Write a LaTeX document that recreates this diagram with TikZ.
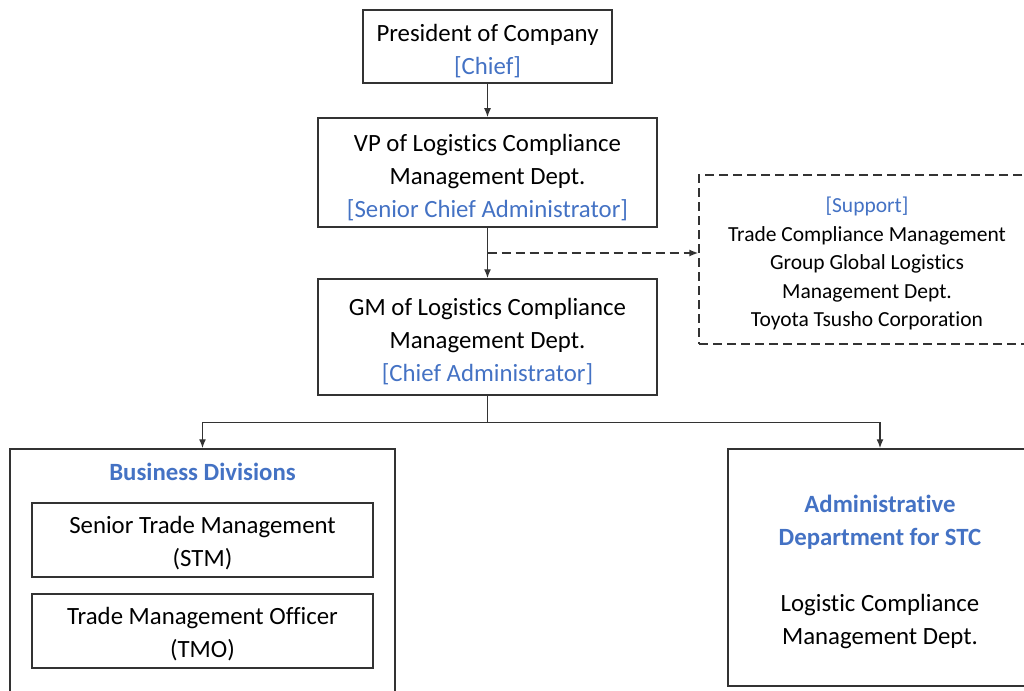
\documentclass[tikz,border=0pt]{standalone}
\usepackage{fontspec}
\setmainfont{Carlito}[Ligatures=NoCommon]
\usetikzlibrary{arrows.meta,calc}
\definecolor{roleblue}{HTML}{4472C4}
\definecolor{framegray}{HTML}{333333}
\newcommand{\lowertext}[1]{\rule{0pt}{#1}}

\begin{document}
\begin{tikzpicture}[x=1pt,y=-1pt,
	box/.style={draw=framegray, line width=1.5pt, align=center, inner sep=0pt,
		font=\fontsize{24.8}{33}\selectfont},
	supportbox/.style={draw=framegray, line width=1.4pt, dash pattern=on 9pt off 5pt,
		align=center, inner sep=0pt, font=\fontsize{21.5}{28.4}\selectfont},
	link/.style={draw=framegray, line width=1.4pt},
	tip/.style={-{Latex[length=9pt,width=7pt]}}]
	\useasboundingbox (0,0) rectangle (1024,690);
	\node [box, minimum width=249pt, minimum height=73pt] (pres) at (487.5,46.5)
		{\lowertext{27pt}President of Company\\ \textcolor{roleblue}{[Chief]}};
	\node [box, minimum width=339pt, minimum height=109pt] (vp) at (487.5,172.5)
		{\lowertext{27pt}VP of Logistics Compliance\\ Management Dept.\\ \textcolor{roleblue}{[Senior Chief Administrator]}};
	\node [box, minimum width=339pt, minimum height=116pt] (gm) at (487.5,337)
		{\lowertext{27pt}GM of Logistics Compliance\\ Management Dept.\\ \textcolor{roleblue}{[Chief Administrator]}};
	\node [supportbox, minimum width=336pt, minimum height=169pt] (support) at (867,259.5)
		{\lowertext{24pt}\textcolor{roleblue}{[Support]}\\ Trade Compliance Management\\ Group Global Logistics\\
		Management Dept.\\ Toyota Tsusho Corporation};
	\node [box, minimum width=385pt, minimum height=260pt] (bus) at (202.5,579) {};
	\node [font=\fontsize{24.8}{33}\selectfont\bfseries, text=roleblue] (bustitle) at (202.5,472)
		{Business Divisions};
	\node [box, minimum width=341pt, minimum height=74pt] (stm) at (202.5,540)
		{\lowertext{24pt}Senior Trade Management\\ (STM)};
	\node [box, minimum width=341pt, minimum height=74pt] (tmo) at (202.5,631)
		{\lowertext{24pt}Trade Management Officer\\ (TMO)};
	\node [box, minimum width=304pt, minimum height=237pt] (admin) at (880,567.5)
		{\lowertext{27pt}\textcolor{roleblue}{\bfseries Administrative}\\ \textcolor{roleblue}{\bfseries Department for STC}\\[33pt]
		Logistic Compliance\\ Management Dept.};
	\coordinate (split) at ($(vp.south)!0.5!(gm.north)$);
	\coordinate (fork) at ($(gm.south)+(0,27)$);
	\draw [link, tip] (pres) -- (vp);
	\draw [link, tip] (vp) -- (gm);
	\draw [link, tip, dash pattern=on 9pt off 5pt] (split) -- (support.west |- split);
	\draw [link] (gm.south) -- (fork);
	\draw [link, tip] (fork) -| (bus.north);
	\draw [link, tip] (fork) -| (admin.north);
\end{tikzpicture}
\end{document}
